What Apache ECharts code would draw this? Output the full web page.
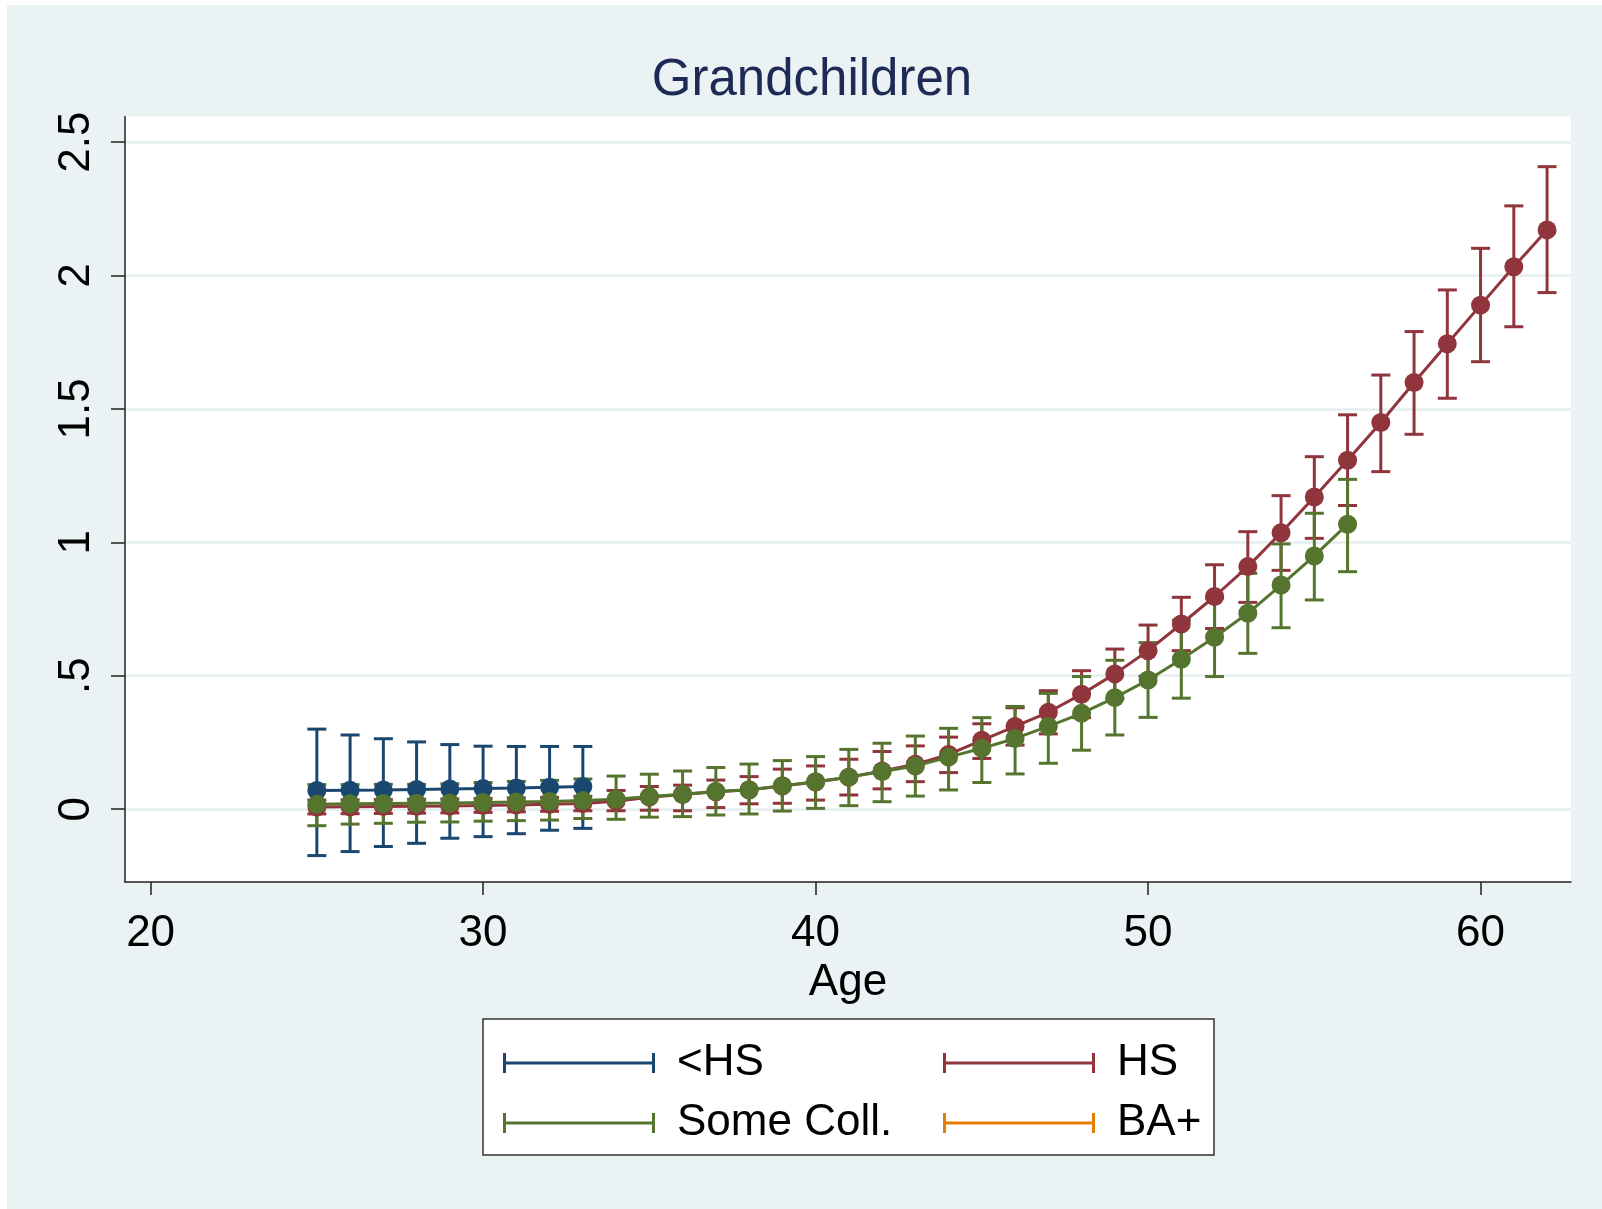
<!DOCTYPE html>
<html><head><meta charset="utf-8">
<script src="https://cdn.jsdelivr.net/npm/echarts@6/dist/echarts.min.js"></script>
<style>html,body{margin:0;padding:0;background:#fff}#c{width:1602px;height:1209px}</style>
</head><body><div id="c"></div>
<script>
const titleText = 'Grandchildren';
const xName = 'Age';
const xTicks = [20, 30, 40, 50, 60];
const yTicks = [0, 0.5, 1, 1.5, 2, 2.5];
const yTickLabels = ['0', '.5', '1', '1.5', '2', '2.5'];
const seriesNames = ['<HS', 'HS', 'Some Coll.', 'BA+'];

const agesLHS = [25,26,27,28,29,30,31,32,33];
const meanLHS = [0.070,0.071,0.072,0.074,0.076,0.077,0.079,0.082,0.085];
const loLHS   = [-0.174,-0.159,-0.140,-0.128,-0.109,-0.103,-0.092,-0.079,-0.072];
const hiLHS   = [0.300,0.278,0.264,0.252,0.242,0.236,0.235,0.235,0.235];

const agesHS = [25,26,27,28,29,30,31,32,33,34,35,36,37,38,39,40,41,42,43,44,45,46,47,48,49,50,51,52,53,54,55,56,57,58,59,60,61,62];
const meanHS = [0.008,0.009,0.010,0.011,0.012,0.014,0.016,0.018,0.021,0.030,0.045,0.055,0.065,0.073,0.087,0.102,0.120,0.143,0.168,0.205,0.258,0.310,0.363,0.431,0.507,0.594,0.694,0.797,0.909,1.036,1.170,1.308,1.449,1.599,1.744,1.889,2.033,2.171];
const loHS   = [-0.018,-0.017,-0.016,-0.015,-0.014,-0.012,-0.010,-0.008,-0.006,-0.006,-0.004,-0.006,0.006,0.020,0.022,0.034,0.053,0.076,0.103,0.137,0.190,0.240,0.282,0.343,0.414,0.498,0.594,0.677,0.775,0.895,1.015,1.138,1.265,1.405,1.540,1.677,1.808,1.936];
const hiHS   = [0.034,0.035,0.036,0.037,0.038,0.040,0.042,0.044,0.048,0.070,0.085,0.090,0.109,0.122,0.150,0.162,0.187,0.216,0.237,0.270,0.320,0.380,0.444,0.519,0.600,0.690,0.794,0.916,1.040,1.175,1.321,1.478,1.627,1.790,1.946,2.102,2.261,2.408];

const agesSC = [25,26,27,28,29,30,31,32,33,34,35,36,37,38,39,40,41,42,43,44,45,46,47,48,49,50,51,52,53,54,55,56];
const meanSC = [0.018,0.020,0.021,0.022,0.023,0.025,0.027,0.029,0.032,0.037,0.047,0.056,0.066,0.072,0.088,0.103,0.120,0.141,0.162,0.195,0.228,0.265,0.310,0.359,0.418,0.484,0.562,0.644,0.734,0.840,0.949,1.068];
const loSC   = [-0.062,-0.056,-0.053,-0.049,-0.048,-0.045,-0.043,-0.041,-0.035,-0.038,-0.030,-0.028,-0.022,-0.018,-0.007,0.003,0.013,0.028,0.049,0.072,0.100,0.132,0.172,0.221,0.278,0.344,0.416,0.497,0.584,0.680,0.784,0.890];
const hiSC   = [0.092,0.092,0.093,0.093,0.095,0.100,0.104,0.108,0.113,0.124,0.131,0.143,0.156,0.169,0.182,0.197,0.224,0.247,0.274,0.303,0.343,0.385,0.434,0.497,0.558,0.624,0.708,0.791,0.884,0.994,1.109,1.236];

const agesBA = [];
const meanBA = [];
const loBA = [];
const hiBA = [];

const colors = ['#1a476f', '#90353b', '#55752f', '#e37e00'];
const FONT = '"Liberation Sans",Arial,sans-serif';

const groups = [
  [agesLHS, meanLHS, loLHS, hiLHS],
  [agesHS, meanHS, loHS, hiHS],
  [agesSC, meanSC, loSC, hiSC],
  [agesBA, meanBA, loBA, hiBA]
];

const series = [];
groups.forEach((g, i) => {
  const [ages, mean, lo, hi] = g;
  series.push({
    name: seriesNames[i], type: 'custom', color: colors[i], z: 2 + i * 0.01,
    data: ages.map((a, k) => [a, lo[k], hi[k]]),
    encode: { x: 0, y: [1, 2] },
    renderItem: function (params, api) {
      const x = api.value(0);
      const p1 = api.coord([x, api.value(2)]);
      const p2 = api.coord([x, api.value(1)]);
      const hw = 9.5;
      const st = { stroke: colors[i], lineWidth: 3, fill: null };
      return { type: 'group', children: [
        { type: 'line', shape: { x1: p1[0], y1: p1[1], x2: p2[0], y2: p2[1] }, style: st },
        { type: 'line', shape: { x1: p1[0] - hw, y1: p1[1], x2: p1[0] + hw, y2: p1[1] }, style: st },
        { type: 'line', shape: { x1: p2[0] - hw, y1: p2[1], x2: p2[0] + hw, y2: p2[1] }, style: st }
      ]};
    }
  });
});
groups.forEach((g, i) => {
  const [ages, mean] = g;
  series.push({
    name: seriesNames[i], type: 'line', color: colors[i], z: 5 + i * 0.01,
    data: ages.map((a, k) => [a, mean[k]]),
    symbol: 'circle', symbolSize: 19, showSymbol: true,
    lineStyle: { width: 3, color: colors[i] },
    itemStyle: { color: colors[i] }
  });
});

const capIcon = 'path://M0,0h3v20h-3zM0,8.5h152v3h-152zM149,0h3v20h-3z';
const legendCommon = {
  orient: 'vertical', itemWidth: 152, itemHeight: 20, itemGap: 10,
  icon: capIcon, selectedMode: false,
  textStyle: { fontFamily: FONT, fontSize: 44, color: '#000', lineHeight: 50, padding: [0, 0, 0, 17] }
};

const chart = echarts.init(document.getElementById('c'), null, { renderer: 'canvas' });
chart.setOption({
  animation: false,
  backgroundColor: '#eaf2f3',
  textStyle: { fontFamily: FONT },
  grid: { left: 125, right: 31, top: 116.5, bottom: 327, show: true, backgroundColor: '#ffffff', borderWidth: 0 },
  xAxis: {
    type: 'value', min: 19.23, max: 62.72,
    name: xName, nameLocation: 'middle', nameGap: 60,
    nameTextStyle: { fontFamily: FONT, fontSize: 44, color: '#000' },
    axisLine: { show: true, onZero: false, lineStyle: { color: '#222', width: 1.5 } },
    axisTick: { show: true, length: 13, lineStyle: { color: '#222', width: 1.5 }, customValues: xTicks },
    axisLabel: { fontFamily: FONT, fontSize: 44, color: '#000', margin: 30, customValues: xTicks, formatter: v => String(v) },
    splitLine: { show: false }
  },
  yAxis: {
    type: 'value', min: -0.273, max: 2.596,
    axisLine: { show: true, onZero: false, lineStyle: { color: '#222', width: 1.5 } },
    axisTick: { show: true, length: 14, lineStyle: { color: '#222', width: 1.5 }, customValues: yTicks },
    axisLabel: { fontFamily: FONT, fontSize: 44, color: '#000', margin: 26, rotate: 90, customValues: yTicks,
      formatter: v => { const k = yTicks.findIndex(t => Math.abs(t - v) < 1e-9); return k >= 0 ? yTickLabels[k] : ''; } },
    splitLine: { show: true, lineStyle: { color: '#e4eef0', width: 2.5 }, customValues: yTicks }
  },
  legend: [
    Object.assign({}, legendCommon, { left: 498, top: 1033, data: [seriesNames[0], seriesNames[2]] }),
    Object.assign({}, legendCommon, { left: 938, top: 1033, data: [seriesNames[1], seriesNames[3]] })
  ],
  graphic: [
    { type: 'rect', z: -10, shape: { x: 0, y: 0, width: 1602, height: 5 }, style: { fill: '#fff' } },
    { type: 'rect', z: -10, shape: { x: 0, y: 0, width: 7, height: 1209 }, style: { fill: '#fff' } },
    { type: 'rect', z: -5, shape: { x: 483, y: 1019, width: 731, height: 136 }, style: { fill: '#fff', stroke: '#333', lineWidth: 1.5 } },
    { type: 'text', z: 10, x: 812, y: 81, style: { text: titleText, fontFamily: FONT, fontSize: 51, fill: '#1c2a55', textAlign: 'center', textVerticalAlign: 'middle' } }
  ],
  series: series
});
</script></body></html>
